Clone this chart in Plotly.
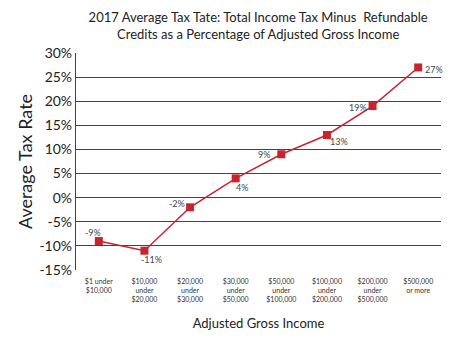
import plotly.graph_objects as go

categories = ["$1 under<br>$10,000", "$10,000<br>under<br>$20,000", "$20,000<br>under<br>$30,000",
              "$30,000<br>under<br>$50,000", "$50,000<br>under<br>$100,000", "$100,000<br>under<br>$200,000",
              "$200,000<br>under<br>$500,000", "$500,000<br>or more"]
rates = [-9, -11, -2, 4, 9, 13, 19, 27]
point_labels = ["-9%", "-11%", "-2%", "4%", "9%", "13%", "19%", "27%"]
label_dx = [-6, 7, -13, 6, -17, 12, -15, 16]
label_dy = [9, -9, 4, -9, 0, -7, -1, -2]
y_ticks = [30, 25, 20, 15, 10, 5, 0, -5, -10, -15]

RED = "#c62530"
FONT = "Lato"

fig = go.Figure()
fig.add_trace(go.Scatter(
    x=list(range(len(categories))), y=rates, mode="lines+markers",
    line=dict(color=RED, width=1.5),
    marker=dict(symbol="square", size=8, color=RED),
    showlegend=False, hoverinfo="skip"))

for i, (v, t, dx, dy) in enumerate(zip(rates, point_labels, label_dx, label_dy)):
    fig.add_annotation(x=i, y=v, text=t, showarrow=False, xshift=dx, yshift=dy,
                       font=dict(family=FONT, size=9, color="#444"))

fig.update_layout(
    width=461, height=347,
    margin=dict(l=76, r=20, t=53, b=77),
    paper_bgcolor="white", plot_bgcolor="white",
    font=dict(family=FONT, color="#222"),
    title=dict(text="2017 Average Tax Tate: Total Income Tax Minus  Refundable<br>Credits as a Percentage of Adjusted Gross Income",
               x=0.56, xanchor="center", yref="container", y=1 - 22 / 347, yanchor="middle",
               font=dict(family=FONT, size=13, color="#222")),
    xaxis=dict(range=[-0.5, 7.5], tickmode="array", tickvals=list(range(len(categories))),
               ticktext=categories, tickfont=dict(family=FONT, size=7, color="#333"),
               ticklabelstandoff=6,
               showgrid=False, zeroline=False, showline=False, ticks="",
               title=dict(text="Adjusted Gross Income", font=dict(family=FONT, size=13, color="#222"), standoff=15)),
    yaxis=dict(range=[-15, 30], tickmode="array", tickvals=y_ticks,
               ticktext=[f"{v}%" for v in y_ticks], tickfont=dict(family=FONT, size=14, color="#222"),
               showgrid=True, gridcolor="#444", gridwidth=1.2, zeroline=False,
               showline=True, linecolor="#444", linewidth=1.2, ticks="",
               title=dict(text="Average Tax Rate", font=dict(family=FONT, size=18, color="#222"), standoff=2)),
)

fig.write_html("out.html")
